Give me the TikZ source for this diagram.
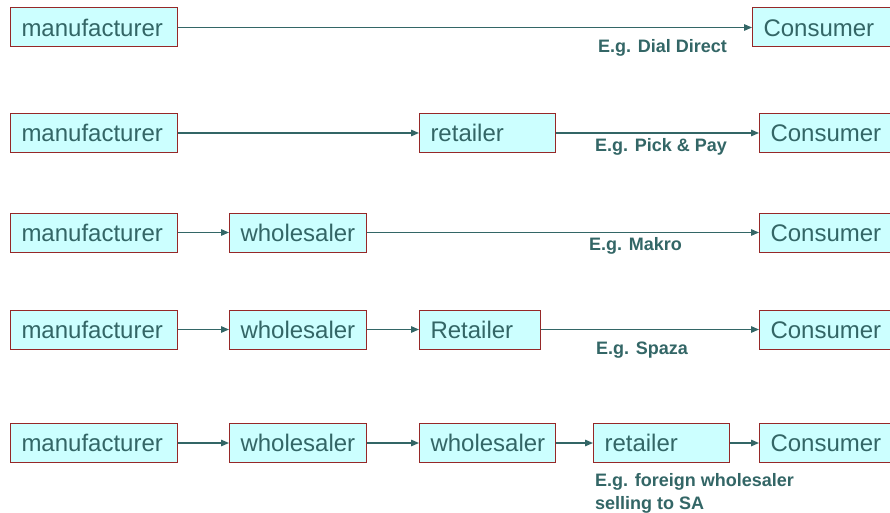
\documentclass[tikz,border=0pt]{standalone}
\usepackage{fontspec}
\setmainfont{Liberation Sans}
\usetikzlibrary{arrows.meta}
\definecolor{boxfill}{HTML}{CCFFFF}
\definecolor{boxline}{HTML}{962828}
\definecolor{ink}{HTML}{336666}
\tikzset{
  chainbox/.style={draw=boxline, line width=1pt, fill=boxfill, anchor=west,
    minimum height=39pt, inner xsep=11pt, inner ysep=0pt,
    text width=#1-22pt, align=left, text height=17.5pt, text depth=0pt,
    text=ink, font=\fontsize{24}{24}\selectfont},
  flow/.style={draw=ink, line width=1.4pt, -{Triangle[length=8pt,width=6.5pt]}},
  example/.style={anchor=base west, inner sep=0pt, text=ink,
    font=\fontsize{18}{23}\bfseries\selectfont}
}
\begin{document}
\begin{tikzpicture}[x=1pt,y=-1pt]
\path[use as bounding box, clip] (0,0) rectangle (890,513);
\fill[white] (0,0) rectangle (890,513);

% direct sale
\node[chainbox=167pt] (m1) at (10,27.5) {manufacturer};
\node[chainbox=150pt] (c1) at (752,27.5) {Consumer};
\draw[flow] (m1) -- (c1);
\node[example] (e1) at (598,52.7) {E.g. Dial Direct};

% through a retailer
\node[chainbox=167pt] (m2) at (10,133) {manufacturer};
\node[chainbox=136pt] (r2) at (419,133) {retailer};
\node[chainbox=150pt] (c2) at (759,133) {Consumer};
\draw[flow] (m2) -- (r2);
\draw[flow] (r2) -- (c2);
\node[example] (e2) at (595,151.7) {E.g. Pick \& Pay};

% through a wholesaler
\node[chainbox=167pt] (m3) at (10,232.5) {manufacturer};
\node[chainbox=137pt] (w3) at (229,232.5) {wholesaler};
\node[chainbox=150pt] (c3) at (759,232.5) {Consumer};
\draw[flow] (m3) -- (w3);
\draw[flow] (w3) -- (c3);
\node[example] (e3) at (589,250) {E.g. Makro};

% wholesaler and retailer
\node[chainbox=167pt] (m4) at (10,329.5) {manufacturer};
\node[chainbox=137pt] (w4) at (229,329.5) {wholesaler};
\node[chainbox=121pt] (r4) at (419,329.5) {Retailer};
\node[chainbox=150pt] (c4) at (759,329.5) {Consumer};
\draw[flow] (m4) -- (w4);
\draw[flow] (w4) -- (r4);
\draw[flow] (r4) -- (c4);
\node[example] (e4) at (596,354) {E.g. Spaza};

% two wholesalers and a retailer
\node[chainbox=167pt] (m5) at (10,443) {manufacturer};
\node[chainbox=137pt] (w5) at (229,443) {wholesaler};
\node[chainbox=136pt] (v5) at (419,443) {wholesaler};
\node[chainbox=136pt] (r5) at (593,443) {retailer};
\node[chainbox=150pt] (c5) at (759,443) {Consumer};
\draw[flow] (m5) -- (w5);
\draw[flow] (w5) -- (v5);
\draw[flow] (v5) -- (r5);
\draw[flow] (r5) -- (c5);
\node[example] (e5) at (595,486) {E.g. foreign wholesaler};
\node[example] (e5b) at (595,509.3) {selling to SA};
\end{tikzpicture}
\end{document}
